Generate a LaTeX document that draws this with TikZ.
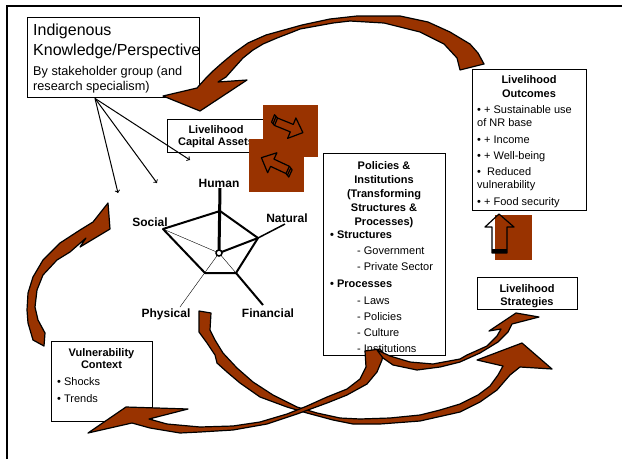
\documentclass[tikz,border=0pt]{standalone}
\usepackage{fontspec}
\setmainfont{Liberation Sans}
\usetikzlibrary{positioning}
\definecolor{rust}{HTML}{993300}
\tikzset{
	box/.style={draw, line width=1.4pt, fill=white, inner sep=0pt, anchor=north west},
	ttl/.style={font=\fontsize{11}{14}\selectfont\bfseries, align=center, inner sep=0pt, anchor=north},
	lst/.style={font=\fontsize{11}{13}\selectfont, align=left, inner sep=0pt, anchor=north west},
	axlbl/.style={font=\fontsize{12}{14}\selectfont\bfseries, inner sep=0pt, anchor=base},
	bigarrow/.style={fill=rust, draw=black, line width=1.2pt, line join=round},
	hollow/.style={draw=black, line width=1.2pt, line join=round},
}
\begin{document}
\begin{tikzpicture}[x=1pt,y=-1pt]
	\useasboundingbox (0,0) rectangle (622,459);
	
	% frame
	\draw[line width=1.3pt] (7,459) -- (7,6) -- (622,6);
	
	% boxes
	\node[box, minimum width=172pt, minimum height=80pt] (ik) at (27,17) {};
	\node[box, minimum width=98pt, minimum height=33pt] (lca) at (167,119) {};
	\node[box, minimum width=122pt, minimum height=202pt] (pol) at (323,153) {};
	\node[box, minimum width=114pt, minimum height=141pt] (outc) at (472,69) {};
	\node[box, minimum width=100pt, minimum height=32pt] (strat) at (477,277) {};
	\node[box, minimum width=101pt, minimum height=80pt] (vul) at (51,341) {};
	
	% texts
	\node[inner sep=0pt, anchor=north west, align=left, font=\fontsize{16}{20}\selectfont] (iktitle) at (33,23.5) {Indigenous\\Knowledge/Perspective};
	\node[inner sep=0pt, anchor=north west, align=left, font=\fontsize{12.7}{15}\selectfont] (iksub) at (33,65.8) {By stakeholder group (and\\research specialism)};
	\node[ttl, font=\fontsize{11}{12}\selectfont\bfseries] (lcatxt) at (216,125) {Livelihood\\Capital Assets};
	\node[ttl] (poltxt) at (384,161) {Policies \&\\Institutions\\(Transforming\\Structures \&\\Processes)};
	\node[lst, font=\fontsize{11}{16}\selectfont] (pollst) at (330,231) {\textbf{• Structures}\\\hspace*{27pt}- Government\\\hspace*{27pt}- Private Sector\\[1pt]\textbf{• Processes}\\[1pt]\hspace*{27pt}- Laws\\\hspace*{27pt}- Policies\\\hspace*{27pt}- Culture\\\hspace*{27pt}- Institutions};
	\node[ttl] (outctxt) at (529,75) {Livelihood\\Outcomes};
	\node[lst] (outclst) at (477,105) {• + Sustainable use\\of NR base\\[4pt]• + Income\\[3pt]• + Well-being\\[3pt]•\ \ Reduced\\vulnerability\\[4pt]• + Food security};
	\node[ttl, font=\fontsize{11}{13}\selectfont\bfseries] (strattxt) at (527,284) {Livelihood\\Strategies};
	\node[ttl, font=\fontsize{11}{12}\selectfont\bfseries] (vultxt) at (101.5,348) {Vulnerability\\Context};
	\node[lst, font=\fontsize{11}{17}\selectfont] (vullst) at (57,377) {• Shocks\\• Trends};
	
	% lines from the knowledge box
	\coordinate (ikfoot) at ([xshift=68pt]ik.south west);
	\coordinate (tsoc) at (118,193);
	\coordinate (tpen) at (157,183);
	\coordinate (tlca) at (190,160);
	\foreach \t in {tsoc,tpen,tlca}
	{
		\draw[line width=1pt,->] (ikfoot) -- (\t);
	}
	
	% assets pentagon
	\coordinate (ctr) at (219,253);
	\coordinate (p1) at (220,211);
	\coordinate (p2) at (258,238);
	\coordinate (p3) at (236,273);
	\coordinate (p4) at (205,273);
	\coordinate (p5) at (163,229);
	\draw[line width=2pt, line join=round] (p1) -- (p2) -- (p3) -- (p4) -- (p5) -- cycle;
	\draw[line width=3pt] (ctr) -- (220,188);
	\draw[line width=2pt] (ctr) -- (p2);
	\draw[line width=1.5pt] (p2) -- (285,224);
	\draw[line width=0.4pt] (ctr) -- (p3);
	\draw[line width=2pt] (p3) -- (263,305);
	\draw[line width=0.4pt] (ctr) -- (180,307);
	\draw[line width=0.4pt] (ctr) -- (p5);
	\draw[line width=1.5pt, fill=white] (ctr) circle (3pt);
	\node[axlbl] (human) at (219,187) {Human};
	\node[axlbl] (natural) at (287,222) {Natural};
	\node[axlbl] (social) at (150,226) {Social};
	\node[axlbl] (physical) at (166,317) {Physical};
	\node[axlbl] (financial) at (268,317) {Financial};
	
	% clip-art squares
	\fill[rust] (263,105) rectangle (318,157);
	\begin{scope}[shift={(289,127)}, rotate=-22]
		\draw[hollow] (-14,-4) -- (3,-4) -- (3,-11) -- (15,0) -- (3,11) -- (3,4) -- (-14,4) -- cycle;
		\draw[hollow] (-14,-4) -- (-18,-6) -- (-18,2) -- (-14,4);
		\draw[hollow] (-16,-5) -- (-16,3);
	\end{scope}
	\fill[rust] (249,139) rectangle (304,192);
	\begin{scope}[shift={(275,164)}, rotate=155]
		\draw[hollow] (-14,-4) -- (3,-4) -- (3,-11) -- (15,0) -- (3,11) -- (3,4) -- (-14,4) -- cycle;
		\draw[hollow] (-14,-4) -- (-18,-6) -- (-18,2) -- (-14,4);
		\draw[hollow] (-16,-5) -- (-16,3);
	\end{scope}
	\fill[rust] (495,215) rectangle (532,260);
	\draw[hollow] (492,253) -- (492,227) -- (485,227) -- (499,214) -- (514,227) -- (507,227) -- (507,253) -- cycle;
	\fill (492,249) rectangle (507,253);
	
	% top arrow, outcomes back to knowledge
	\filldraw[bigarrow] (197,88) -- (206,78) -- (213,71) -- (222,63) -- (234,53) -- (248,43) -- (266,35) -- (284,30) -- (302,25) -- (330,19) -- (357,16) -- (400,16) -- (428,22) -- (450,32) -- (470,44) -- (478,53) -- (484,64) -- (460,70) -- (457,58) -- (444,44) -- (420,32) -- (384,23) -- (350,21) -- (333,23) -- (300,29) -- (290,33) -- (277,38) -- (263,44) -- (253,50) -- (243,58) -- (234,68) -- (226,77) -- (218,82) -- (247,80) -- (200,111) -- (163,96) -- cycle;
	
	% left arrow, vulnerability to assets
	\filldraw[bigarrow] (33,340) -- (28,323) -- (27,310) -- (28,293) -- (33,277) -- (43,260) -- (60,243) -- (80,230) -- (93,222) -- (108,203) -- (110,229) -- (80,247) -- (86,238) -- (70,252) -- (57,260) -- (43,275) -- (37,290) -- (35,307) -- (38,320) -- (45,333) -- (44,346) -- cycle;
	
	% assets to strategies
	\filldraw[bigarrow] (199,311) -- (199,332) -- (207,343) -- (215,355) -- (217,363) -- (227,372) -- (240,383) -- (260,397) -- (287,407) -- (307,413) -- (333,420) -- (353,424) -- (380,424) -- (420,421) -- (460,412) -- (480,402) -- (497,390) -- (510,375) -- (520,367) -- (552,369) -- (522,343) -- (477,360) -- (503,366) -- (498,375) -- (490,386) -- (478,395) -- (460,404) -- (440,410) -- (420,415) -- (390,418) -- (360,419) -- (340,418) -- (317,413) -- (297,407) -- (273,395) -- (253,382) -- (237,368) -- (223,353) -- (215,340) -- (210,330) -- (211,313) -- cycle;
	
	% policies back to vulnerability
	\filldraw[bigarrow] (88,433) -- (126,407) -- (188,409) -- (149,419) -- (167,424) -- (200,427) -- (233,426) -- (260,422) -- (287,414) -- (307,406) -- (327,397) -- (347,389) -- (360,379) -- (366,367) -- (365,351) -- (380,349) -- (383,353) -- (382,360) -- (377,372) -- (367,384) -- (347,395) -- (327,403) -- (297,414) -- (267,424) -- (233,430) -- (200,432) -- (180,433) -- (150,428) -- (132,423) -- cycle;
	
	% policies to strategies
	\filldraw[bigarrow] (377,350) -- (390,356) -- (410,362) -- (433,364) -- (460,359) -- (467,355) -- (487,346) -- (497,336) -- (501,329) -- (489,331) -- (516,313) -- (539,317) -- (512,324) -- (508,332) -- (498,342) -- (480,353) -- (460,362) -- (440,367) -- (417,370) -- (393,365) -- (383,358) -- cycle;
	
\end{tikzpicture}
\end{document}
